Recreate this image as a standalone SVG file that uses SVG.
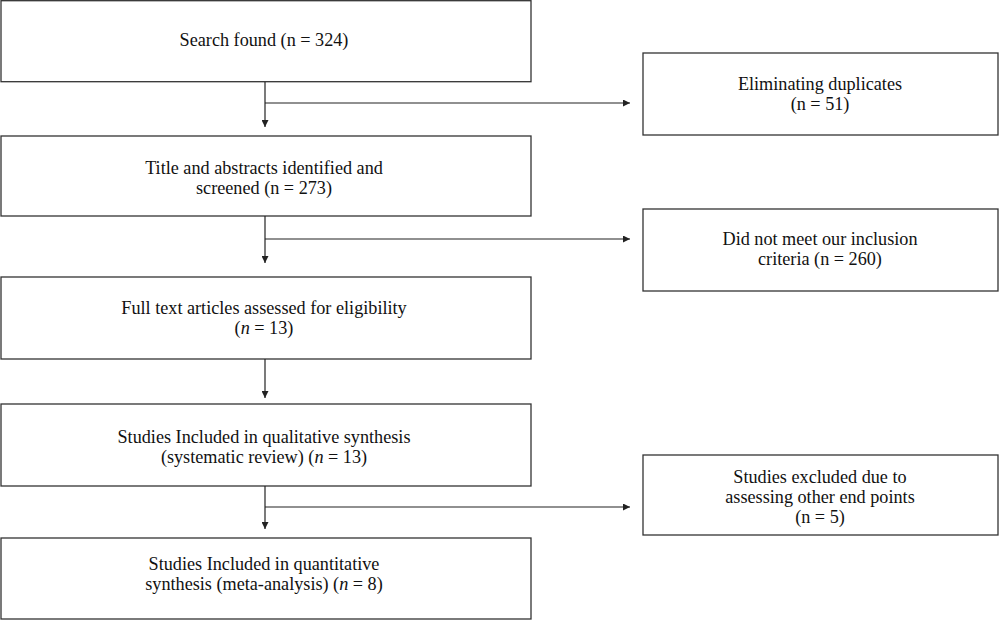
<svg xmlns="http://www.w3.org/2000/svg" width="1000" height="620" viewBox="0 0 1000 620">
<style>
.box{fill:#fff;stroke:#333;stroke-width:1.3}
.t{font-family:"Liberation Serif",serif;font-size:18.2px;fill:#111;text-anchor:middle}
.c{fill:none;stroke:#222;stroke-width:1.2}
</style>
<defs>
<marker id="ah" viewBox="0 0 10 10" refX="10" refY="5" markerWidth="7" markerHeight="7" markerUnits="userSpaceOnUse" orient="auto">
<path d="M0,0 L10,5 L0,10 z" fill="#222"/>
</marker>
</defs>
<rect width="1000" height="620" fill="#fff"/>
<g id="n1"><rect class="box" x="1" y="0.7" width="530" height="81"/><text class="t" x="264" y="46">Search found (n = 324)</text></g>
<g id="r1"><rect class="box" x="643" y="53" width="355" height="82"/><text class="t" x="820" y="90">Eliminating duplicates</text><text class="t" x="820" y="110">(n = 51)</text></g>
<g id="n2"><rect class="box" x="1" y="136" width="530" height="80"/><text class="t" x="264" y="174">Title and abstracts identified and</text><text class="t" x="264" y="194">screened (n = 273)</text></g>
<g id="r2"><rect class="box" x="643" y="209" width="355" height="82"/><text class="t" x="820" y="245">Did not meet our inclusion</text><text class="t" x="820" y="265">criteria (n = 260)</text></g>
<g id="n3"><rect class="box" x="1" y="277" width="530" height="82"/><text class="t" x="264" y="314">Full text articles assessed for eligibility</text><text class="t" x="264" y="334">(<tspan font-style="italic">n</tspan> = 13)</text></g>
<g id="n4"><rect class="box" x="1" y="404" width="530" height="82"/><text class="t" x="264" y="443">Studies Included in qualitative synthesis</text><text class="t" x="264" y="463">(systematic review) (<tspan font-style="italic">n</tspan> = 13)</text></g>
<g id="r3"><rect class="box" x="643" y="455" width="355" height="80"/><text class="t" x="820" y="483">Studies excluded due to</text><text class="t" x="820" y="503">assessing other end points</text><text class="t" x="820" y="523">(n = 5)</text></g>
<g id="n5"><rect class="box" x="1" y="538" width="530" height="81"/><text class="t" x="264" y="570">Studies Included in quantitative</text><text class="t" x="264" y="590">synthesis (meta-analysis) (<tspan font-style="italic">n</tspan> = 8)</text></g>
<g id="connectors">
<path class="c" d="M265,82 V127" marker-end="url(#ah)"/>
<path class="c" d="M265,103 H630" marker-end="url(#ah)"/>
<path class="c" d="M265,216 V263" marker-end="url(#ah)"/>
<path class="c" d="M265,239 H630" marker-end="url(#ah)"/>
<path class="c" d="M265,359 V398" marker-end="url(#ah)"/>
<path class="c" d="M265,486 V529" marker-end="url(#ah)"/>
<path class="c" d="M265,507 H630" marker-end="url(#ah)"/>
</g>
</svg>
